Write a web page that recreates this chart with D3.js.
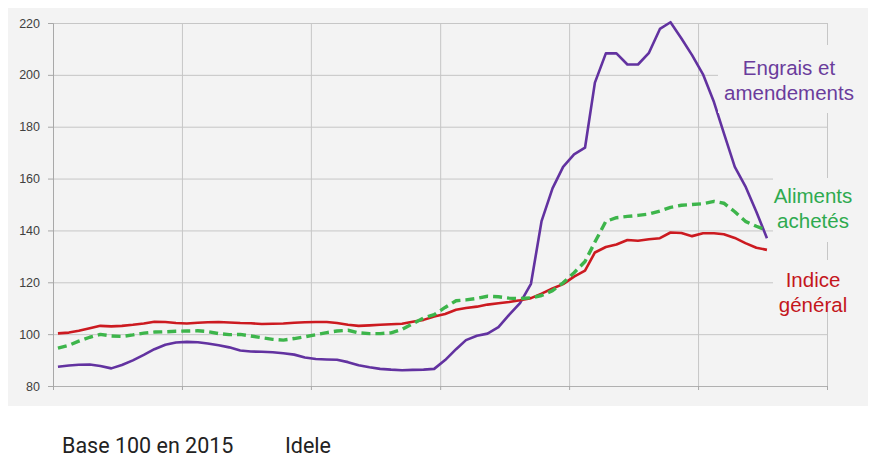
<!DOCTYPE html>
<html>
<head>
<meta charset="utf-8">
<script src="https://cdn.jsdelivr.net/npm/d3@7/dist/d3.min.js"></script>
<style>
  body { margin: 0; background: #fff; }
  svg { display: block; }
</style>
</head>
<body>
<script>
// monthly series, Jan 2018 -> Jul 2023, base 100 en 2015
let firstMonth = new Date(2018, 0, 1);
let nMonths = 67;
let months = d3.timeMonth.range(firstMonth, d3.timeMonth.offset(firstMonth, nMonths));

let yearTicks = [2018, 2019, 2020, 2021, 2022, 2023, 2024];
let yTicks = [80, 100, 120, 140, 160, 180, 200, 220];

let indiceGeneral = [
  100.3, 100.6, 101.3, 102.3, 103.2, 103.0, 103.2, 103.6, 104.1, 104.8, 104.7, 104.3,
  104.1, 104.4, 104.6, 104.7, 104.5, 104.3, 104.2, 103.9, 104.0, 104.1, 104.4, 104.6,
  104.7, 104.7, 104.3, 103.6, 103.2, 103.4, 103.6, 103.8, 104.0, 104.8, 105.5, 106.8,
  107.8, 109.4, 110.1, 110.6, 111.4, 111.9, 112.4, 113.1, 113.9, 115.6, 117.6, 119.3,
  122.2, 124.5, 131.5, 133.6, 134.6, 136.3, 136.0, 136.6, 137.0, 139.2, 139.0, 137.8,
  138.9, 138.9, 138.5, 137.1, 135.1, 133.3, 132.5
];
let alimentsAchetes = [
  94.6, 95.7, 97.3, 98.8, 99.9, 99.3, 99.1, 99.7, 100.4, 100.8, 100.9, 101.1,
  101.2, 101.3, 101.0, 100.2, 99.8, 99.9, 99.3, 98.6, 98.0, 97.7, 98.3, 99.0,
  99.8, 100.6, 101.2, 101.5, 100.5, 100.2, 100.2, 100.5, 101.8, 104.0, 106.2, 107.5,
  110.3, 112.9, 113.2, 113.8, 114.6, 114.4, 113.9, 113.7, 114.0, 114.9, 116.8, 119.8,
  123.7, 128.0, 135.5, 143.5, 144.9, 145.4, 145.8, 146.3, 147.5, 148.9, 149.7, 150.0,
  150.3, 151.2, 150.5, 147.2, 143.5, 141.6, 140.0
];
let engrais = [
  87.4, 87.9, 88.2, 88.3, 87.7, 86.8, 88.1, 89.9, 92.0, 94.2, 95.9, 96.8,
  97.0, 96.9, 96.4, 95.7, 94.9, 93.7, 93.3, 93.2, 93.0, 92.6, 92.1, 91.0,
  90.4, 90.2, 90.1, 89.2, 88.0, 87.2, 86.6, 86.3, 86.1, 86.2, 86.3, 86.6,
  90.0, 94.2, 97.7, 99.4, 100.2, 102.7, 107.4, 112.0, 119.4, 143.6, 156.2, 164.5,
  169.3, 171.9, 197.0, 208.3, 208.3, 204.0, 204.0, 208.5, 217.7, 220.3, 214.0, 207.6,
  200.2, 189.5, 177.5, 164.5, 157.0, 147.2, 137.0
];

let series = [
  {name: "engrais", values: engrais, color: "#6232a0", width: 2.6, dash: null},
  {name: "indice", values: indiceGeneral, color: "#cc1a20", width: 2.6, dash: null},
  {name: "aliments", values: alimentsAchetes, color: "#3db54b", width: 3.4, dash: "9,5"}
];

let labels = [
  {lines: ["Engrais et", "amendements"], color: "#6a3c9c", cx: 789, y: 75, box: [718, 45, 148, 68]},
  {lines: ["Aliments", "achetés"], color: "#2eaa4f", cx: 813, y: 203, box: [773, 178, 93, 64]},
  {lines: ["Indice", "général"], color: "#c4161c", cx: 813, y: 287, box: [773, 260, 93, 47]}
];

let margin = {top: 23, left: 53},
    width = 774,
    height = 363;

let svg = d3.select("body").append("svg")
    .attr("width", 870)
    .attr("height", 465);

// grey panel
svg.append("rect")
    .attr("x", 8).attr("y", 8)
    .attr("width", 860).attr("height", 398)
    .attr("fill", "#f3f3f3");

let g = svg.append("g")
    .attr("transform", "translate(" + margin.left + "," + margin.top + ")");

let x = d3.scaleTime()
    .domain([new Date(yearTicks[0], 0, 1), new Date(yearTicks[yearTicks.length - 1], 0, 1)])
    .range([0, width]);
let y = d3.scaleLinear()
    .domain([80, 220])
    .range([height, 0]);

// grid
g.append("g")
    .attr("class", "grid")
    .call(d3.axisLeft(y).tickValues(yTicks).tickSize(-width).tickFormat(""))
    .call(s => s.select(".domain").remove())
    .selectAll("line").attr("stroke", "#c6c6c6");
g.append("g")
    .attr("class", "grid")
    .attr("transform", "translate(0," + height + ")")
    .call(d3.axisBottom(x).tickValues(yearTicks.map(d => new Date(d, 0, 1))).tickSize(-height).tickFormat(""))
    .call(s => s.select(".domain").remove())
    .selectAll("line").attr("stroke", "#c6c6c6");

// label backgrounds hide the grid behind the texts
labels.forEach(function(l) {
  svg.append("rect")
      .attr("x", l.box[0]).attr("y", l.box[1])
      .attr("width", l.box[2]).attr("height", l.box[3])
      .attr("fill", "#f3f3f3");
});

// axes
let yAxis = g.append("g")
    .call(d3.axisLeft(y).tickValues(yTicks).tickSize(5).tickPadding(8));
yAxis.select(".domain").attr("stroke", "#a8a8a8");
yAxis.selectAll("line").attr("stroke", "#a8a8a8");
yAxis.selectAll("text")
    .attr("fill", "#404040")
    .style("font-family", "'Liberation Sans', Arial, sans-serif")
    .style("font-size", "12.5px");

let xAxis = g.append("g")
    .attr("transform", "translate(0," + height + ")")
    .call(d3.axisBottom(x).tickValues(yearTicks.map(d => new Date(d, 0, 1))).tickSize(4).tickSizeOuter(0).tickFormat(""));
xAxis.select(".domain").attr("stroke", "#b0b0b0");
xAxis.selectAll("line").attr("stroke", "#a8a8a8");

// lines
let line = d3.line()
    .x(function(d, i) { return x(d3.timeDay.offset(months[i], 14)); })
    .y(function(d) { return y(d); });

series.forEach(function(s) {
  g.append("path")
      .datum(s.values)
      .attr("fill", "none")
      .attr("stroke", s.color)
      .attr("stroke-width", s.width)
      .attr("stroke-linejoin", "round")
      .attr("stroke-dasharray", s.dash)
      .attr("d", line);
});

// labels
labels.forEach(function(l) {
  l.lines.forEach(function(t, k) {
    svg.append("text")
        .attr("x", l.cx)
        .attr("y", l.y + k * 25)
        .attr("text-anchor", "middle")
        .attr("fill", l.color)
        .style("font-family", "'Liberation Sans', Arial, sans-serif")
        .style("font-size", "20.5px")
        .text(t);
  });
});

// footer
svg.append("text")
    .attr("x", 62).attr("y", 453)
    .attr("fill", "#222")
    .style("font-family", "Roboto, 'DejaVu Sans', sans-serif")
    .style("font-size", "21.5px")
    .text("Base 100 en 2015");
svg.append("text")
    .attr("x", 285).attr("y", 453)
    .attr("fill", "#222")
    .style("font-family", "Roboto, 'DejaVu Sans', sans-serif")
    .style("font-size", "21.5px")
    .text("Idele");
</script>
</body>
</html>
